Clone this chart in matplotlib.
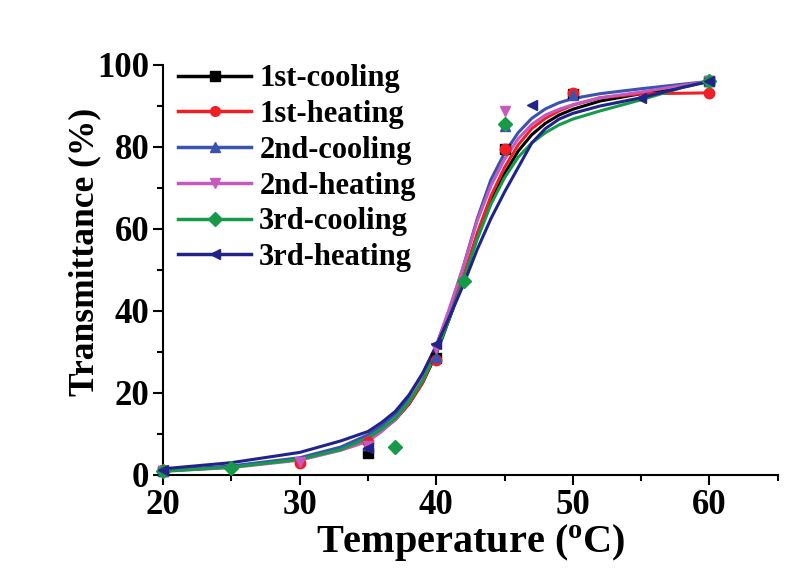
import matplotlib
matplotlib.use("Agg")
import matplotlib.pyplot as plt
from matplotlib.lines import Line2D
from matplotlib.ticker import MultipleLocator

plt.rcParams['font.family'] = ['Liberation Serif', 'DejaVu Serif']
plt.rcParams['font.weight'] = 'bold'

series_names = ["1st-cooling", "1st-heating", "2nd-cooling",
                "2nd-heating", "3rd-cooling", "3rd-heating"]
colors = ["#000000", "#F01F26", "#3A52B0", "#C659BE", "#169A48", "#22238A"]
markers = ["s", "o", "^", "v", "D", "<"]

# measured points
pts_x = {
    "1st-cooling": [20, 35, 40, 45, 50, 60],
    "1st-heating": [20, 30, 35, 40, 45, 50, 60],
    "2nd-cooling": [20, 35, 40, 45, 50, 60],
    "2nd-heating": [20, 30, 35, 40, 45, 60],
    "3rd-cooling": [20, 25, 37, 42, 45, 60],
    "3rd-heating": [20, 35, 40, 47, 55, 60],
}
pts_y = {
    "1st-cooling": [1.0, 5.4, 28.5, 79.5, 92.8, 96.0],
    "1st-heating": [1.2, 3.0, 8.0, 28.0, 79.5, 93.2, 93.2],
    "2nd-cooling": [1.0, 7.2, 28.8, 85.0, 92.7, 96.0],
    "2nd-heating": [1.0, 3.2, 7.0, 31.0, 88.8, 96.0],
    "3rd-cooling": [1.0, 1.6, 6.8, 47.3, 85.5, 96.0],
    "3rd-heating": [1.3, 6.5, 32.0, 90.3, 92.0, 96.0],
}

# fitted curves
curve_x = [20, 25, 30, 33, 35, 36, 37, 38, 39, 40, 41, 42, 43, 44, 45, 46,
           47, 48, 49, 50, 52, 55, 58, 60]
curve_y = {
    "1st-cooling": [1.0, 2.0, 3.9, 6.3, 8.8, 10.9, 13.5, 17.3, 22.5, 29.5, 38.5, 48.0, 58.0, 67.0,
                    73.5, 79.0, 83.0, 85.8, 87.8, 89.2, 91.2, 93.0, 94.8, 96.0],
    "1st-heating": [1.0, 2.0, 3.9, 6.3, 8.8, 10.9, 13.5, 17.3, 22.5, 30.0, 39.0, 48.5, 59.0, 68.0,
                    75.0, 80.5, 84.5, 87.0, 88.8, 90.2, 92.0, 93.0, 93.1, 93.2],
    "2nd-cooling": [1.0, 2.2, 4.2, 6.8, 9.8, 12.0, 14.8, 18.8, 24.5, 31.5, 40.5, 51.0, 62.5, 72.0,
                    78.5, 83.5, 87.0, 89.3, 90.8, 91.8, 93.0, 94.2, 95.3, 96.0],
    "2nd-heating": [0.9, 1.8, 3.6, 6.0, 8.2, 10.6, 13.5, 17.8, 23.8, 31.5, 41.0, 51.0, 62.0, 70.5,
                    77.0, 82.0, 85.5, 87.8, 89.2, 90.3, 92.0, 93.4, 95.0, 96.0],
    "3rd-cooling": [0.9, 1.9, 3.8, 6.2, 9.0, 11.2, 13.8, 17.8, 23.0, 30.0, 38.5, 47.5, 57.5, 66.0,
                    72.5, 77.5, 81.0, 83.5, 85.4, 86.8, 88.8, 91.5, 94.5, 96.0],
    "3rd-heating": [1.5, 3.0, 5.5, 8.3, 10.6, 12.8, 15.5, 19.5, 24.8, 31.5, 38.8, 46.5, 55.0, 62.5,
                    69.0, 75.0, 81.0, 84.5, 86.8, 88.2, 90.0, 92.0, 94.5, 96.0],
}

x_ticks = [20, 30, 40, 50, 60]
y_ticks = [0, 20, 40, 60, 80, 100]

fig = plt.figure(figsize=(8, 5.75), dpi=100)
ax = fig.add_axes([0.204, 0.174, 0.768, 0.713])

for name, c, m in zip(series_names, colors, markers):
    ax.plot(curve_x, curve_y[name], color=c, lw=2.2, zorder=2,
            solid_joinstyle='round')
    ax.plot(pts_x[name], pts_y[name], ls='none', marker=m, color=c,
            markersize=7.5, zorder=3, clip_on=False)

ax.set_xlim(20, 65)
ax.set_ylim(0, 100)
ax.set_xticks(x_ticks)
ax.set_yticks(y_ticks)
ax.xaxis.set_minor_locator(MultipleLocator(5))
ax.yaxis.set_minor_locator(MultipleLocator(10))
ax.tick_params(which='major', direction='out', length=7, width=1.5,
               labelsize=25, pad=3)
ax.tick_params(which='minor', direction='out', length=4, width=1.5)
for lab in ax.get_xticklabels() + ax.get_yticklabels():
    lab.set_fontweight('bold')
for s in ['top', 'right']:
    ax.spines[s].set_visible(False)
for s in ['left', 'bottom']:
    ax.spines[s].set_linewidth(1.5)

ax.set_xlabel('Temperature ($\\mathregular{^oC}$)', fontsize=29, fontweight='bold', labelpad=0)
ax.set_ylabel('Transmittance (%)', fontsize=25.5, fontweight='bold')
ax.yaxis.set_label_coords(-0.1, 0.545)

handles = [Line2D([], [], color=c, marker=m, lw=2.5, markersize=7)
           for c, m in zip(colors, markers)]
ax.legend(handles, series_names, loc='upper left', bbox_to_anchor=(0.2225, 0.888),
          bbox_transform=fig.transFigure, frameon=False,
          handlelength=2.4, handletextpad=0.26, labelspacing=0.22,
          borderpad=0, borderaxespad=0, prop={'weight': 'bold', 'size': 22})

fig.savefig('out.png', dpi=100)
